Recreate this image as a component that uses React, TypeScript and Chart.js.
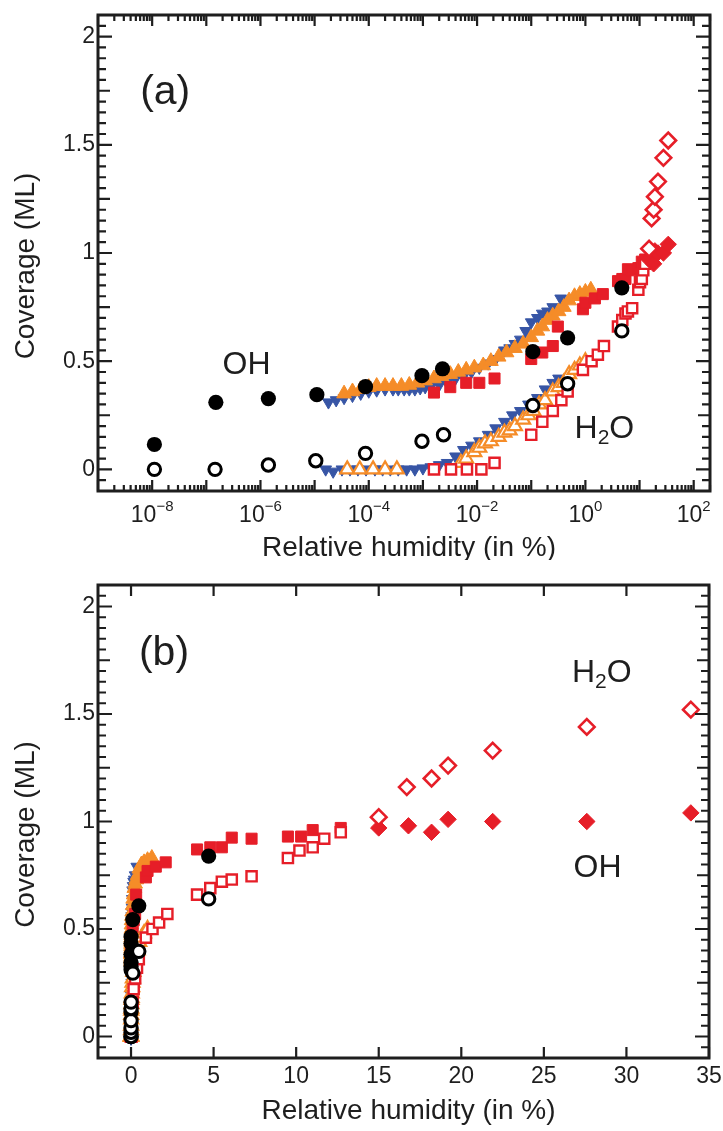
import React, { useEffect, useRef } from 'react';
import { Chart, registerables } from 'chart.js';

Chart.register(...registerables);

const FONT = '"Liberation Sans", Arial, Helvetica, sans-serif';
const INK = '#1e1e1e';
const RED = '#e61e28';
const ORANGE = '#f58c28';
const BLUE = '#3755a5';

// ---------- axis ticks / labels ----------
const Y_TICKS = [0, 0.5, 1, 1.5, 2];
const LOG_LABEL_EXPONENTS = [-8, -6, -4, -2, 0, 2];
const LIN_X_TICKS = [0, 5, 10, 15, 20, 25, 30, 35];
const X_TITLE = 'Relative humidity (in %)';
const Y_TITLE = 'Coverage (ML)';

// ---------- data (relative humidity in %, coverage in ML) ----------
// black filled circles (OH)
const OH_CIRCLE_X = [1.1e-8, 1.5e-7, 1.4e-6, 1.1e-5, 8.7e-5, 9.6e-4, 2.3e-3, 0.107, 0.47, 4.7];
const OH_CIRCLE_Y = [0.115, 0.31, 0.327, 0.345, 0.382, 0.433, 0.465, 0.544, 0.608, 0.839];
// black open circles (H2O)
const H2O_CIRCLE_X = [1.1e-8, 1.45e-7, 1.4e-6, 1.05e-5, 8.7e-5, 9.6e-4, 2.4e-3, 0.107, 0.47, 4.7];
const H2O_CIRCLE_Y = [0.0, 0.0, 0.02, 0.04, 0.074, 0.13, 0.16, 0.295, 0.396, 0.64];

// blue filled down-triangles (OH)
const OH_BLUE_X = [1.8e-5, 2.5e-5, 3.5e-5, 5.0e-5, 7.1e-5, 1.0e-4, 1.4e-4, 2.0e-4, 2.8e-4, 3.5e-4, 4.5e-4, 5.6e-4, 7.1e-4, 8.9e-4, 1.1e-3, 1.4e-3, 2.0e-3, 2.8e-3, 4.0e-3, 5.6e-3, 7.9e-3, 0.011, 0.016, 0.022, 0.032, 0.04, 0.05, 0.063, 0.079, 0.1, 0.13, 0.16, 0.2, 0.25, 0.35];
const OH_BLUE_Y = [0.31, 0.32, 0.33, 0.34, 0.35, 0.36, 0.365, 0.37, 0.37, 0.37, 0.37, 0.37, 0.37, 0.375, 0.38, 0.385, 0.39, 0.40, 0.42, 0.43, 0.45, 0.47, 0.49, 0.51, 0.55, 0.56, 0.58, 0.60, 0.64, 0.68, 0.70, 0.72, 0.73, 0.75, 0.79];
// blue filled down-triangles (H2O)
const H2O_BLUE_X = [1.6e-5, 2.2e-5, 3.2e-5, 4.5e-5, 6.3e-5, 8.9e-5, 1.3e-4, 1.8e-4, 2.5e-4, 3.5e-4, 5.0e-4, 7.1e-4, 1.0e-3, 1.4e-3, 2.0e-3, 2.8e-3, 4.0e-3, 5.6e-3, 7.9e-3, 0.011, 0.016, 0.022, 0.032, 0.045, 0.063, 0.089, 0.13, 0.18, 0.25, 0.32];
const H2O_BLUE_Y = [0.0, -0.01, 0.0, 0.0, 0.0, 0.0, 0.0, 0.0, 0.0, 0.0, 0.0, 0.0, 0.005, 0.01, 0.02, 0.03, 0.06, 0.09, 0.11, 0.13, 0.16, 0.19, 0.22, 0.25, 0.27, 0.30, 0.33, 0.37, 0.40, 0.42];

// orange filled up-triangles (OH)
const OH_ORANGE_X = [3.5e-5, 5.0e-5, 7.1e-5, 1.0e-4, 1.4e-4, 2.0e-4, 2.8e-4, 4.0e-4, 5.6e-4, 7.9e-4, 1.1e-3, 1.6e-3, 2.2e-3, 3.2e-3, 4.5e-3, 6.3e-3, 8.9e-3, 0.013, 0.018, 0.025, 0.035, 0.05, 0.071, 0.1, 0.13, 0.16, 0.2, 0.25, 0.32, 0.4, 0.5, 0.63, 0.79, 1.0, 1.26];
const OH_ORANGE_Y = [0.35, 0.36, 0.37, 0.38, 0.385, 0.385, 0.385, 0.385, 0.39, 0.40, 0.41, 0.42, 0.43, 0.44, 0.45, 0.46, 0.47, 0.48, 0.50, 0.52, 0.54, 0.56, 0.58, 0.61, 0.64, 0.66, 0.69, 0.71, 0.73, 0.75, 0.78, 0.80, 0.81, 0.82, 0.83];
// orange open up-triangles (H2O)
const H2O_ORANGE_X = [4.0e-5, 6.8e-5, 1.2e-4, 2.0e-4, 3.3e-4, 5.0e-3, 6.3e-3, 8.9e-3, 0.011, 0.014, 0.018, 0.025, 0.032, 0.04, 0.05, 0.071, 0.089, 0.11, 0.14, 0.18, 0.25, 0.32, 0.4, 0.5, 0.63, 0.79, 1.0];
const H2O_ORANGE_Y = [0.0, 0.0, 0.0, 0.0, 0.0, 0.03, 0.05, 0.08, 0.10, 0.12, 0.13, 0.15, 0.17, 0.18, 0.20, 0.23, 0.25, 0.27, 0.30, 0.32, 0.36, 0.38, 0.40, 0.44, 0.46, 0.48, 0.50];

// red filled squares (OH)
const OH_SQUARE_X = [0.0016, 0.0032, 0.0063, 0.011, 0.021, 0.1, 0.16, 0.25, 0.31, 0.9, 1.0, 1.5, 2.1, 4.0, 4.8, 5.5, 6.1, 7.3, 9.5, 10.3, 11.0, 12.7];
const OH_SQUARE_Y = [0.355, 0.38, 0.40, 0.40, 0.42, 0.51, 0.54, 0.57, 0.66, 0.74, 0.77, 0.79, 0.81, 0.87, 0.88, 0.88, 0.925, 0.92, 0.93, 0.93, 0.96, 0.97];
// red open squares (H2O)
const H2O_SQUARE_X = [0.0016, 0.0033, 0.0065, 0.012, 0.021, 0.1, 0.16, 0.25, 0.36, 0.47, 0.9, 1.3, 1.7, 2.2, 4.0, 4.8, 5.5, 6.1, 7.3, 9.5, 10.2, 11.0, 11.7, 12.7];
const H2O_SQUARE_Y = [0.0, 0.0, 0.0, 0.0, 0.03, 0.16, 0.22, 0.27, 0.32, 0.36, 0.46, 0.50, 0.53, 0.57, 0.66, 0.69, 0.72, 0.73, 0.745, 0.83, 0.865, 0.88, 0.92, 0.95];

// red filled diamonds (OH)
const OH_DIAMOND_X = [15.0, 16.8, 18.2, 19.2, 21.9, 27.6, 33.9];
const OH_DIAMOND_Y = [0.97, 0.98, 0.95, 1.01, 1.0, 1.0, 1.04];
// red open diamonds (H2O)
const H2O_DIAMOND_X = [15.0, 16.7, 18.2, 19.2, 21.9, 27.6, 33.9];
const H2O_DIAMOND_Y = [1.02, 1.16, 1.2, 1.26, 1.33, 1.44, 1.52];

// ---------- helpers ----------
function series(xs: number[], ys: number[]) {
  return xs.map((x, i) => ({ x, y: ys[i] }));
}

function buildDatasets(): any[] {
  const base = { showLine: false, pointHoverRadius: 0 };
  return [
    { ...base, label: 'H2O circles', data: series(H2O_CIRCLE_X, H2O_CIRCLE_Y), pointStyle: 'circle', pointRadius: 6.2, backgroundColor: '#fff', borderColor: '#000', borderWidth: 3, order: 0 },
    { ...base, label: 'OH circles', data: series(OH_CIRCLE_X, OH_CIRCLE_Y), pointStyle: 'circle', pointRadius: 7.6, backgroundColor: '#000', borderColor: '#000', borderWidth: 0, order: 1 },
    { ...base, label: 'H2O diamonds', data: series(H2O_DIAMOND_X, H2O_DIAMOND_Y), pointStyle: 'rectRot', pointRadius: 7.8, backgroundColor: '#fff', borderColor: RED, borderWidth: 2.6, order: 2 },
    { ...base, label: 'OH diamonds', data: series(OH_DIAMOND_X, OH_DIAMOND_Y), pointStyle: 'rectRot', pointRadius: 8.2, backgroundColor: RED, borderColor: RED, borderWidth: 1, order: 3 },
    { ...base, label: 'H2O squares', data: series(H2O_SQUARE_X, H2O_SQUARE_Y), pointStyle: 'rect', pointRadius: 7.2, backgroundColor: '#fff', borderColor: RED, borderWidth: 2.4, order: 4 },
    { ...base, label: 'OH squares', data: series(OH_SQUARE_X, OH_SQUARE_Y), pointStyle: 'rect', pointRadius: 7.8, backgroundColor: RED, borderColor: RED, borderWidth: 1, order: 5 },
    { ...base, label: 'H2O orange', data: series(H2O_ORANGE_X, H2O_ORANGE_Y), pointStyle: 'triangle', pointRadius: 8, backgroundColor: '#fff', borderColor: ORANGE, borderWidth: 2.2, order: 6 },
    { ...base, label: 'OH orange', data: series(OH_ORANGE_X, OH_ORANGE_Y), pointStyle: 'triangle', pointRadius: 8.5, backgroundColor: ORANGE, borderColor: ORANGE, borderWidth: 1, order: 7 },
    { ...base, label: 'H2O blue', data: series(H2O_BLUE_X, H2O_BLUE_Y), pointStyle: 'triangle', pointRotation: 180, pointRadius: 6.8, backgroundColor: BLUE, borderColor: BLUE, borderWidth: 1, order: 8 },
    { ...base, label: 'OH blue', data: series(OH_BLUE_X, OH_BLUE_Y), pointStyle: 'triangle', pointRotation: 180, pointRadius: 6.8, backgroundColor: BLUE, borderColor: BLUE, borderWidth: 1, order: 9 },
  ];
}

function yTickMarks(): [number, number][] {
  const out: [number, number][] = [];
  for (let i = -2; i <= 42; i++) {
    const v = i * 0.05;
    const len = i % 10 === 0 ? 14 : i % 5 === 0 ? 12 : 8;
    out.push([v, len]);
  }
  return out;
}

function logTickMarks(): [number, number][] {
  const out: [number, number][] = [];
  for (let e = -9; e <= 2; e++) {
    for (let k = 1; k <= 9; k++) {
      const v = k * Math.pow(10, e);
      if (v > 200) break;
      out.push([v, k === 1 ? 11 : 6]);
    }
  }
  return out;
}

function drawChem(ctx: CanvasRenderingContext2D, x: number, y: number, size: number) {
  ctx.font = `${size}px ${FONT}`;
  ctx.fillText('H', x, y);
  let cx = x + ctx.measureText('H').width;
  const sub = Math.round(size * 0.66);
  ctx.font = `${sub}px ${FONT}`;
  ctx.fillText('2', cx, y + size * 0.18);
  cx += ctx.measureText('2').width;
  ctx.font = `${size}px ${FONT}`;
  ctx.fillText('O', cx, y);
}

const framePlugin = {
  id: 'frame',
  afterDraw(chart: any, _args: any, o: any) {
    const { ctx, chartArea: ca } = chart;
    const xs = chart.scales.x;
    const ys = chart.scales.y;
    ctx.save();
    ctx.strokeStyle = INK;
    ctx.lineWidth = 2.2;
    ctx.beginPath();
    for (const [v, len] of o.yTicks) {
      const p = ys.getPixelForValue(v);
      ctx.moveTo(ca.left, p);
      ctx.lineTo(ca.left + len, p);
      ctx.moveTo(ca.right, p);
      ctx.lineTo(ca.right - len, p);
    }
    for (const [v, len] of o.xTicks) {
      const p = xs.getPixelForValue(v);
      ctx.moveTo(p, ca.bottom);
      ctx.lineTo(p, ca.bottom - len);
      ctx.moveTo(p, ca.top);
      ctx.lineTo(p, ca.top + len);
    }
    ctx.stroke();
    ctx.lineWidth = 3;
    ctx.strokeRect(ca.left, ca.top, ca.right - ca.left, ca.bottom - ca.top);

    ctx.fillStyle = INK;
    // axis titles
    ctx.font = `28px ${FONT}`;
    ctx.textAlign = 'center';
    ctx.textBaseline = 'middle';
    ctx.fillText(X_TITLE, (ca.left + ca.right) / 2 + 5, ca.bottom + o.xTitleOffset);
    ctx.save();
    ctx.translate(26, (ca.top + ca.bottom) / 2 + 13);
    ctx.rotate(-Math.PI / 2);
    ctx.fillText(Y_TITLE, 0, 0);
    ctx.restore();

    // log-axis labels with superscripts
    if (o.logLabels) {
      ctx.textAlign = 'left';
      ctx.textBaseline = 'alphabetic';
      for (const e of LOG_LABEL_EXPONENTS) {
        const p = xs.getPixelForValue(Math.pow(10, e));
        const supText = e < 0 ? '\u2212' + Math.abs(e) : String(e);
        ctx.font = `23px ${FONT}`;
        const w1 = ctx.measureText('10').width;
        ctx.font = `15px ${FONT}`;
        const w2 = ctx.measureText(supText).width;
        const left = p - (w1 + w2) / 2;
        const base = ca.bottom + 31;
        ctx.font = `23px ${FONT}`;
        ctx.fillText('10', left, base);
        ctx.font = `15px ${FONT}`;
        ctx.fillText(supText, left + w1, base - 11);
      }
    }

    // annotations placed in data coordinates
    ctx.textAlign = 'left';
    ctx.textBaseline = 'alphabetic';
    for (const n of o.notes) {
      const px = xs.getPixelForValue(n.x);
      const py = ys.getPixelForValue(n.y);
      if (n.chem) {
        drawChem(ctx, px, py, n.size);
      } else {
        ctx.font = `${n.size}px ${FONT}`;
        ctx.fillText(n.text, px, py);
      }
    }
    ctx.restore();
  },
};

const yScale = (): any => ({
  type: 'linear',
  min: -0.1,
  max: 2.1,
  grid: { display: false, drawTicks: false },
  border: { display: false },
  ticks: {
    font: { family: FONT, size: 23 },
    color: INK,
    padding: 3,
    callback: (v: any) => String(v),
  },
  afterBuildTicks: (s: any) => {
    s.ticks = Y_TICKS.map((v) => ({ value: v }));
  },
  afterFit: (s: any) => {
    s.width = 98;
    s.paddingTop = 0;
    s.paddingBottom = 0;
  },
});

function makeChartA(canvas: HTMLCanvasElement) {
  return new Chart(canvas, {
    type: 'scatter',
    data: { datasets: buildDatasets() },
    options: {
      animation: false,
      responsive: false,
      devicePixelRatio: 1,
      layout: { padding: { left: 0, top: 15, right: 13, bottom: 0 } },
      plugins: {
        legend: { display: false },
        tooltip: { enabled: false },
        frame: {
          yTicks: yTickMarks(),
          xTicks: logTickMarks(),
          xTitleOffset: 57,
          logLabels: true,
          notes: [
            { text: '(a)', x: 6e-9, y: 1.69, size: 41 },
            { text: 'OH', x: 2.0e-7, y: 0.442, size: 32 },
            { chem: true, x: 0.63, y: 0.143, size: 32 },
          ],
        },
      } as any,
      scales: {
        x: {
          type: 'logarithmic',
          min: 1e-9,
          max: 200,
          grid: { display: false, drawTicks: false },
          border: { display: false },
          ticks: { display: false },
          afterBuildTicks: (s: any) => {
            s.ticks = LOG_LABEL_EXPONENTS.map((e) => ({ value: Math.pow(10, e) }));
          },
          afterFit: (s: any) => {
            s.height = 69;
            s.paddingLeft = 0;
            s.paddingRight = 0;
          },
        } as any,
        y: yScale(),
      },
    },
    plugins: [framePlugin as any],
  });
}

function makeChartB(canvas: HTMLCanvasElement) {
  return new Chart(canvas, {
    type: 'scatter',
    data: { datasets: buildDatasets() },
    options: {
      animation: false,
      responsive: false,
      devicePixelRatio: 1,
      layout: { padding: { left: 0, top: 25, right: 14, bottom: 0 } },
      plugins: {
        legend: { display: false },
        tooltip: { enabled: false },
        frame: {
          yTicks: yTickMarks(),
          xTicks: LIN_X_TICKS.map((v) => [v, 11]),
          xTitleOffset: 53,
          logLabels: false,
          notes: [
            { text: '(b)', x: 0.48, y: 1.73, size: 41 },
            { chem: true, x: 26.7, y: 1.65, size: 32 },
            { text: 'OH', x: 26.8, y: 0.744, size: 32 },
          ],
        },
      } as any,
      scales: {
        x: {
          type: 'linear',
          min: -2,
          max: 35,
          grid: { display: false, drawTicks: false },
          border: { display: false },
          ticks: {
            font: { family: FONT, size: 23 },
            color: INK,
            padding: 5,
            maxRotation: 0,
            autoSkip: false,
            callback: (v: any) => String(v),
          },
          afterBuildTicks: (s: any) => {
            s.ticks = LIN_X_TICKS.map((v) => ({ value: v }));
          },
          afterFit: (s: any) => {
            s.height = 73;
            s.paddingLeft = 0;
            s.paddingRight = 0;
          },
        } as any,
        y: yScale(),
      },
    },
    plugins: [framePlugin as any],
  });
}

export default function App() {
  const refA = useRef<HTMLCanvasElement>(null);
  const refB = useRef<HTMLCanvasElement>(null);

  useEffect(() => {
    if (!refA.current || !refB.current) return;
    const a = makeChartA(refA.current);
    const b = makeChartB(refB.current);
    return () => {
      a.destroy();
      b.destroy();
    };
  }, []);

  return (
    <div style={{ position: 'absolute', left: 0, top: 0, width: 723, height: 1131, background: '#fff' }}>
      <canvas ref={refA} width={723} height={560} style={{ position: 'absolute', left: 0, top: 0, width: 723, height: 560 }} />
      <canvas ref={refB} width={723} height={571} style={{ position: 'absolute', left: 0, top: 560, width: 723, height: 571 }} />
    </div>
  );
}
